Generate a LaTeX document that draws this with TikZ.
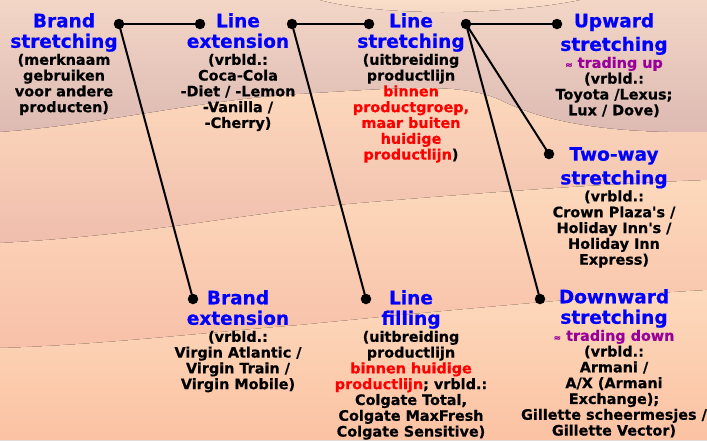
\documentclass[tikz,border=0pt]{standalone}
\usepackage{fontspec}
\setmainfont{DejaVu Sans}[BoldFeatures={FakeBold=0.5}]
\definecolor{tblue}{RGB}{0,0,255}
\definecolor{tred}{RGB}{255,0,0}
\definecolor{tpurp}{RGB}{153,0,153}
\definecolor{bgtop}{RGB}{243,214,198}
\definecolor{mauve}{RGB}{218,182,176}
\definecolor{hill}{RGB}{250,222,200}
\definecolor{peach}{RGB}{253,217,188}
\definecolor{bandB}{RGB}{238,187,172}
\definecolor{bandC}{RGB}{247,190,167}
\definecolor{bandD}{RGB}{251,194,163}
\newcommand\Ttl[1]{{\color{tblue}\fontsize{18.5}{20.5}\selectfont #1}}
\newcommand\Rd[1]{{\color{tred}#1}}
\newcommand\Pu[1]{{\color{tpurp}{\fontsize{9}{9}\selectfont ≈} #1}}
\tikzset{
  dot/.style={circle, fill=black, inner sep=0pt, minimum size=10.5pt},
  conn/.style={line width=2pt, black},
  blk/.style={anchor=north, align=center, inner sep=0pt, text=black,
    font=\bfseries\fontsize{14.4}{15.8}\selectfont},
}
\begin{document}
\begin{tikzpicture}[x=1pt,y=-1pt]
\useasboundingbox (0,0) rectangle (707,440);
% background dunes
\fill[top color=bgtop, bottom color=mauve] (0,0) rectangle (707,150);
\fill[top color=hill, bottom color=bgtop] (320,0) .. controls (380,16) and (500,16) .. (580,0) -- cycle;
\fill[top color=peach, bottom color=bandB] (0,132) .. controls (100,125) and (200,100) .. (300,94) .. controls (400,88) and (460,82) .. (500,100) .. controls (540,120) and (600,134) .. (707,132) -- (707,260) -- (0,260) -- cycle;
\fill[top color=peach, bottom color=bandC] (0,243) .. controls (150,235) and (250,212) .. (360,203) .. controls (480,193) and (600,184) .. (707,180) -- (707,360) -- (0,360) -- cycle;
\fill[top color=peach, bottom color=bandD] (0,348) .. controls (100,345) and (200,333) .. (300,325) .. controls (450,310) and (600,296) .. (707,290) -- (707,440) -- (0,440) -- cycle;

% dots
\node[dot] (bsR) at (119,24) {};
\node[dot] (leL) at (200,24) {};
\node[dot] (leR) at (292,24) {};
\node[dot] (lsL) at (369,24) {};
\node[dot] (lsR) at (466,24) {};
\node[dot] (upL) at (557,24) {};
\node[dot] (twL) at (549,154) {};
\node[dot] (beL) at (193,299) {};
\node[dot] (lfL) at (366,299) {};
\node[dot] (dwL) at (540,299) {};

% connectors
\draw[conn] (bsR.center) -- (leL.center);
\draw[conn] (leR.center) -- (lsL.center);
\draw[conn] (lsR.center) -- (upL.center);
\draw[conn] (bsR.center) -- (beL.center);
\draw[conn] (leR.center) -- (lfL.center);
\draw[conn] (lsR.center) -- (twL.center);
\draw[conn] (lsR.center) -- (dwL.center);

% text blocks
\node[blk] (bs) at (64,13) {\Ttl{Brand}\\[4.7pt]\Ttl{stretching}\\[1.2pt](merknaam\\gebruiken\\voor andere\\producten)};
\node[blk] (le) at (238,13) {\Ttl{Line}\\[4.7pt]\Ttl{extension}\\[1.2pt](vrbld.:\\Coca-Cola\\-Diet / -Lemon\\-Vanilla /\\-Cherry)};
\node[blk] (ls) at (411,13) {\Ttl{Line}\\[4.7pt]\Ttl{stretching}\\[1.2pt](uitbreiding\\productlijn\\\Rd{binnen}\\\Rd{productgroep,}\\\Rd{maar buiten}\\\Rd{huidige}\\\Rd{productlijn})};
\node[blk] (up) at (614,13) {\Ttl{Upward}\\[4.7pt]\Ttl{stretching}\\[1.2pt]\Pu{trading up}\\(vrbld.:\\Toyota /Lexus;\\Lux / Dove)};
\node[blk] (tw) at (614,147) {\Ttl{Two-way}\\[4.7pt]\Ttl{stretching}\\[1.2pt](vrbld.:\\Crown Plaza\textquotesingle s /\\Holiday Inn\textquotesingle s /\\Holiday Inn\\Express)};
\node[blk] (be) at (238,290) {\Ttl{Brand}\\[4.7pt]\Ttl{extension}\\[1.2pt](vrbld.:\\Virgin Atlantic /\\Virgin Train /\\Virgin Mobile)};
\node[blk] (lf) at (411,290) {\Ttl{Line}\\[4.7pt]\Ttl{filling}\\[1.2pt](uitbreiding\\productlijn\\\Rd{binnen huidige}\\\Rd{productlijn}; vrbld.:\\Colgate Total,\\Colgate MaxFresh\\Colgate Sensitive)};
\node[blk] (dw) at (614,289) {\Ttl{Downward}\\[4.7pt]\Ttl{stretching}\\[1.2pt]\Pu{trading down}\\(vrbld.:\\Armani /\\A/X (Armani\\Exchange);\\Gillette scheermesjes /\\Gillette Vector)};
\end{tikzpicture}
\end{document}
